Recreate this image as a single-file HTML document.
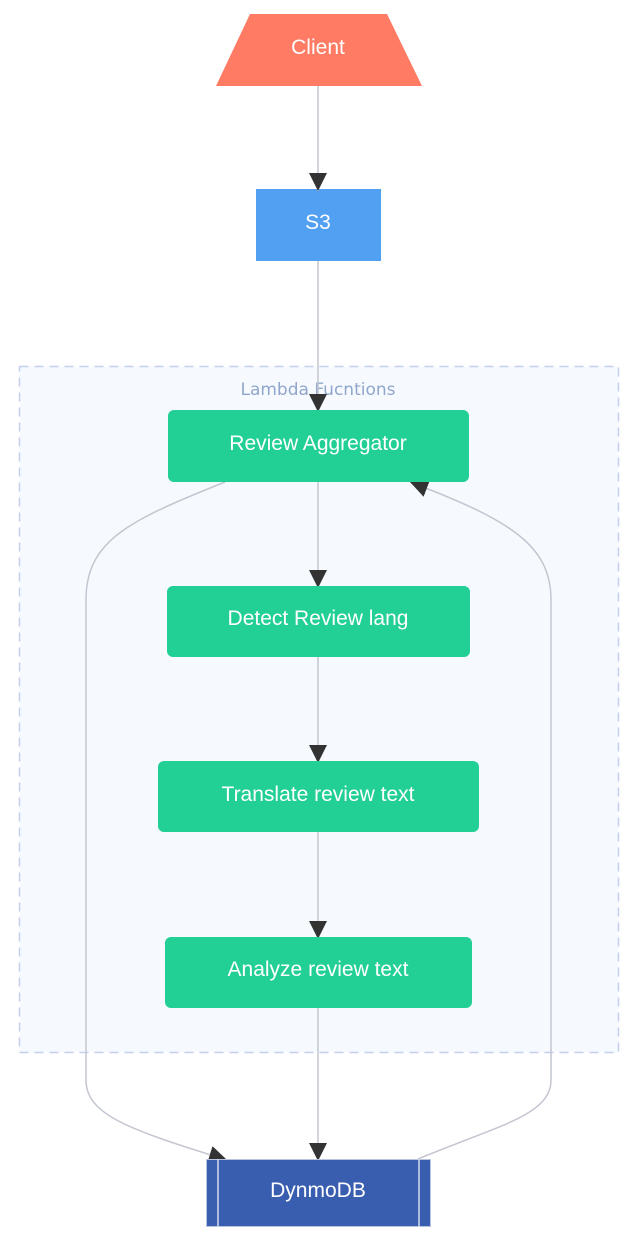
<!DOCTYPE html>
<html><head><meta charset="utf-8"><style>
html,body{margin:0;padding:0;background:#fff;}
svg{display:block;}
.t{font-family:'Liberation Sans',Arial,Helvetica,sans-serif;fill:#fff;font-size:21px;text-anchor:middle;}
</style></head><body>
<svg width="638" height="1239" viewBox="0 0 638 1239">
<defs>
<marker id="a" viewBox="0 0 10 10" refX="10" refY="5" markerWidth="18" markerHeight="18" markerUnits="userSpaceOnUse" orient="auto"><path d="M0,0L10,5L0,10z" fill="#333"/></marker>
</defs>
<rect x="19.5" y="366.5" width="599" height="686" fill="#f6faff" stroke="#c4d0ee" stroke-width="1.5" stroke-dasharray="9,6"/>
<text x="318" y="395" font-family="DejaVu Sans, sans-serif" font-size="17" fill="#91a6cc" text-anchor="middle">Lambda Fucntions</text>
<polygon points="250,14 387,14 422,86 216,86" fill="#ff7b63"/>
<text class="t" x="318" y="54">Client</text>
<rect x="256" y="189" width="125" height="72" fill="#52a0f2"/>
<text class="t" x="318" y="229">S3</text>
<g stroke="#c3c6d1" stroke-width="1.5" fill="none">
<path d="M318,86V191" marker-end="url(#a)"/>
<path d="M318,261V412" marker-end="url(#a)"/>
<path d="M318,482V588" marker-end="url(#a)"/>
<path d="M318,657V763" marker-end="url(#a)"/>
<path d="M318,832V939" marker-end="url(#a)"/>
<path d="M318,1008V1161" marker-end="url(#a)"/>
<path d="M225,482C130,520 86,540 86,600V1080C86,1115 130,1130 227,1160" marker-end="url(#a)"/>
<path d="M418,1159C500,1125 551,1115 551,1080V600C551,545 510,520 410,482" marker-end="url(#a)"/>
</g>
<rect x="168" y="410" width="301" height="72" rx="6" fill="#22cf95"/>
<text class="t" x="318" y="450">Review Aggregator</text>
<rect x="167" y="586" width="303" height="71" rx="6" fill="#22cf95"/>
<text class="t" x="318" y="625">Detect Review lang</text>
<rect x="158" y="761" width="321" height="71" rx="6" fill="#22cf95"/>
<text class="t" x="318" y="801">Translate review text</text>
<rect x="165" y="937" width="307" height="71" rx="6" fill="#22cf95"/>
<text class="t" x="318" y="976">Analyze review text</text>
<rect x="206.5" y="1159.5" width="224" height="67" fill="#3a5eaf" stroke="#b8c4e0"/>
<line x1="218" y1="1159" x2="218" y2="1227" stroke="#d6dcee" stroke-width="1.5"/>
<line x1="419" y1="1159" x2="419" y2="1227" stroke="#d6dcee" stroke-width="1.5"/>
<text class="t" x="318" y="1197">DynmoDB</text>
</svg>
</body></html>
